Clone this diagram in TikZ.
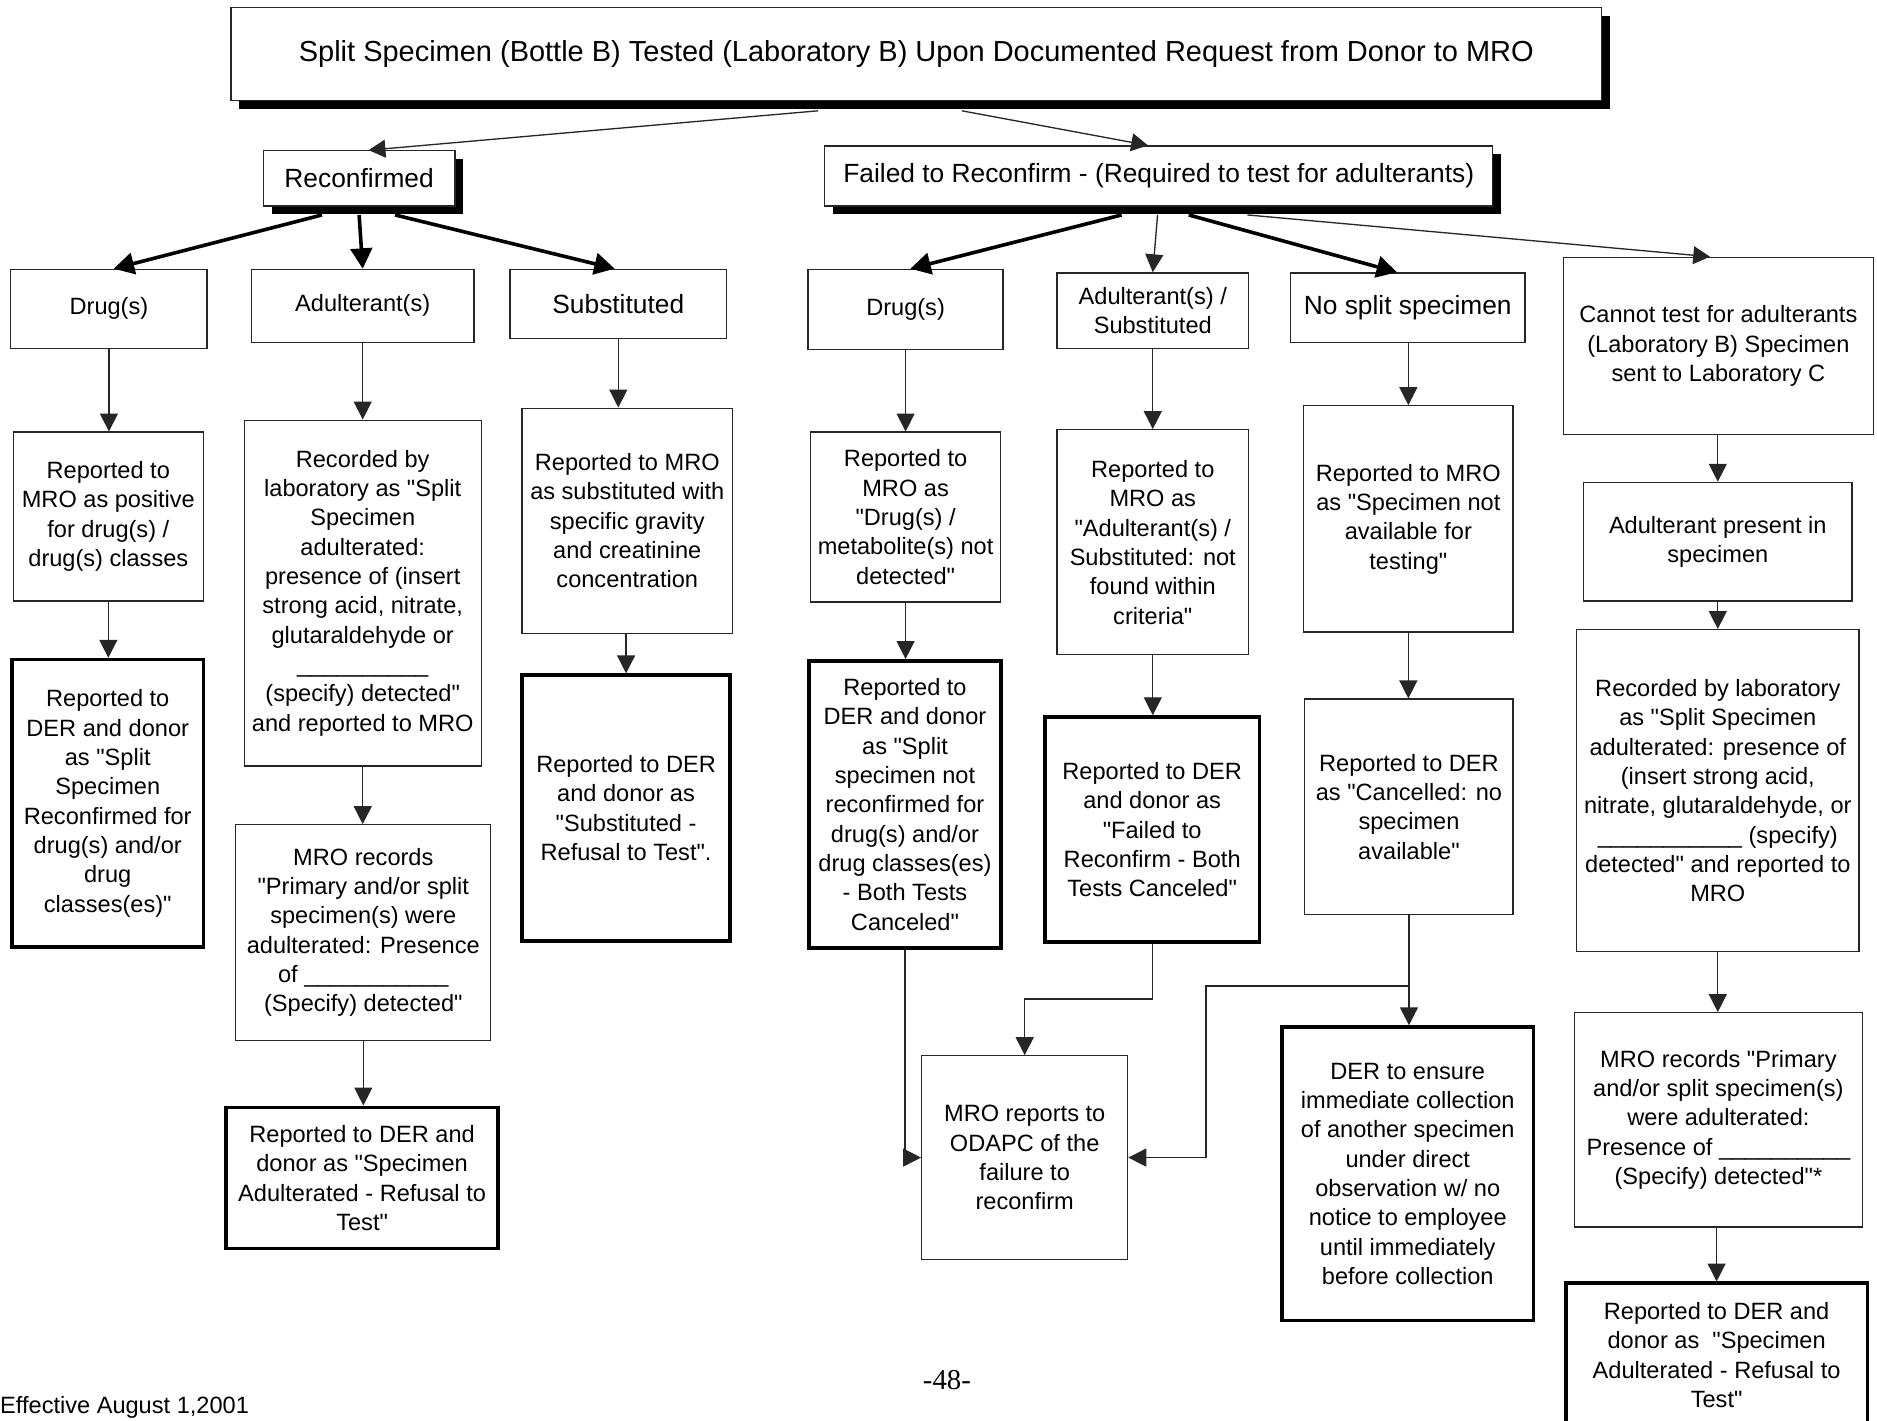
\documentclass[tikz,border=0pt]{standalone}
\usepackage{fontspec}
\setmainfont{Liberation Sans}[Ligatures=TeXOff]
\newfontfamily\pgnumfont{Liberation Serif}
\usetikzlibrary{arrows.meta,shadows,calc}
\newcommand\txtbody{\fontsize{19.7}{24.5}\selectfont}
\newcommand\txthead{\fontsize{22}{26}\selectfont}
\newcommand\txttitle{\fontsize{24.2}{28}\selectfont}
\begin{document}
\begin{tikzpicture}[x=1pt,y=-1pt,
  box/.style={draw=black!85, line width=1.1pt, fill=white, align=center, inner sep=0pt, font=\txtbody},
  tbox/.style={box, draw=black, line width=3pt},
  hbox/.style={box, font=\txthead},
  shbox/.style={box, font=\txthead, drop shadow={shadow xshift=7pt, shadow yshift=-7pt, opacity=1, fill=black, draw=none}},
  conn/.style={draw=black!85, line width=1.1pt, -{Triangle[length=15pt,width=15pt]}},
  topconn/.style={draw=black!85, line width=1.1pt, -{Triangle[length=14pt,width=15pt]}},
  thickconn/.style={draw=black, line width=3pt, -{Triangle[length=17pt,width=18pt]}},
  foot/.style={inner sep=0pt, font=\txtbody}
]
\clip (0,0) rectangle (1568,1187);
\fill[white] (0,0) rectangle (1568,1187);

% header row
\node[shbox, font=\txttitle, minimum width=1145pt, minimum height=78pt] (top) at (765.5,45)
  {\raisebox{-2pt}{Split Specimen (Bottle B) Tested (Laboratory B) Upon Documented Request from Donor to MRO}};
\node[shbox, minimum width=160pt, minimum height=46pt] (rec) at (300,149) {Reconfirmed};
\node[shbox, minimum width=558pt, minimum height=50pt] (fail) at (968,147)
  {Failed to Reconfirm - (Required to test for adulterants)};

% row 1
\node[box, minimum width=164pt, minimum height=66pt] (d1) at (91,258) {Drug(s)};
\node[box, minimum width=186pt, minimum height=61pt] (a1) at (303,255.5) {Adulterant(s)};
\node[hbox, minimum width=181pt, minimum height=58pt] (s1) at (516.5,254) {Substituted};
\node[box, minimum width=163pt, minimum height=67pt] (d2) at (756.5,258.5) {Drug(s)};
\node[box, minimum width=160pt, minimum height=63pt] (as2) at (963,259.5) {Adulterant(s) /\\Substituted};
\node[hbox, minimum width=196pt, minimum height=58pt] (ns) at (1176,257) {No split specimen};
\node[box, minimum width=259pt, minimum height=148pt] (ct) at (1435.5,289)
  {Cannot test for adulterants\\(Laboratory B) Specimen\\sent to Laboratory C};

% row 2
\node[box, minimum width=159pt, minimum height=141pt] (d1b) at (90.5,431.5)
  {Reported to\\MRO as positive\\for drug(s) /\\drug(s) classes};
\node[box, minimum width=198pt, minimum height=289pt] (a1b) at (303,495.5)
  {Recorded by\\laboratory as "Split\\Specimen\\adulterated:\\presence of (insert\\strong acid, nitrate,\\glutaraldehyde or\\\_\_\_\_\_\_\_\_\_\_\\(specify) detected"\\and reported to MRO};
\node[box, minimum width=176pt, minimum height=188pt] (s1b) at (524,435)
  {Reported to MRO\\as substituted with\\specific gravity\\and creatinine\\concentration};
\node[box, minimum width=159pt, minimum height=142pt] (d2b) at (756.5,432)
  {Reported to\\MRO as\\"Drug(s) /\\metabolite(s) not\\detected"};
\node[box, minimum width=160pt, minimum height=188pt] (as2b) at (963,453)
  {Reported to\\MRO as\\"Adulterant(s) /\\Substituted: not\\found within\\criteria"};
\node[box, minimum width=175pt, minimum height=189pt] (nsb) at (1176.5,433.5)
  {Reported to MRO\\as "Specimen not\\available for\\testing"};
\node[box, minimum width=224pt, minimum height=99pt] (ctb) at (1435,452.5)
  {Adulterant present in\\specimen};

% row 3
\node[tbox, minimum width=160pt, minimum height=240pt] (d1c) at (90,671)
  {Reported to\\DER and donor\\as "Split\\Specimen\\Reconfirmed for\\drug(s) and/or\\drug\\classes(es)"};
\node[box, minimum width=213pt, minimum height=180pt] (a1c) at (303.5,779)
  {MRO records\\"Primary and/or split\\specimen(s) were\\adulterated: Presence\\of \_\_\_\_\_\_\_\_\_\_\_\\(Specify) detected"};
\node[tbox, minimum width=174pt, minimum height=222pt] (s1c) at (523,675)
  {Reported to DER\\and donor as\\"Substituted -\\Refusal to Test".};
\node[tbox, minimum width=160pt, minimum height=240pt] (d2c) at (756,672)
  {Reported to\\DER and donor\\as "Split\\specimen not\\reconfirmed for\\drug(s) and/or\\drug classes(es)\\- Both Tests\\Canceled"};
\node[tbox, minimum width=179pt, minimum height=188pt] (as2c) at (962.5,693)
  {Reported to DER\\and donor as\\"Failed to\\Reconfirm - Both\\Tests Canceled"};
\node[box, minimum width=174pt, minimum height=180pt] (nsc) at (1177,674)
  {Reported to DER\\as "Cancelled: no\\specimen\\available"};
\node[box, minimum width=236pt, minimum height=269pt] (ctc) at (1435,660.5)
  {Recorded by laboratory\\as "Split Specimen\\adulterated: presence of\\(insert strong acid,\\nitrate, glutaraldehyde, or\\\_\_\_\_\_\_\_\_\_\_\_ (specify)\\detected" and reported to\\MRO};

% row 4
\node[tbox, minimum width=227pt, minimum height=118pt] (a1d) at (302.5,984)
  {Reported to DER and\\donor as "Specimen\\Adulterated - Refusal to\\Test"};
\node[box, minimum width=172pt, minimum height=170pt] (odapc) at (856,967)
  {MRO reports to\\ODAPC of the\\failure to\\reconfirm};
\node[tbox, minimum width=210pt, minimum height=245pt] (derc) at (1176,980.5)
  {DER to ensure\\immediate collection\\of another specimen\\under direct\\observation w/ no\\notice to employee\\until immediately\\before collection};
\node[box, minimum width=241pt, minimum height=179pt] (ctd) at (1435.5,935.5)
  {MRO records "Primary\\and/or split specimen(s)\\were adulterated:\\Presence of \_\_\_\_\_\_\_\_\_\_\\(Specify) detected"*};
\node[tbox, minimum width=252pt, minimum height=120pt] (cte) at (1434,1132)
  {Reported to DER and\\donor as \ "Specimen\\Adulterated - Refusal to\\Test"};

% footer
\node[foot, anchor=west] (eff) at (0,1176) {Effective August 1,2001};
\node[inner sep=0pt, font=\pgnumfont\fontsize{24}{28}\selectfont] (pg) at (791,1153) {-48-};

% connectors from top
\draw[topconn] ([xshift=-82pt,yshift=-8pt]top.south) -- ([xshift=8pt]rec.north);
\draw[topconn] ([xshift=38pt,yshift=-8pt]top.south) -- ([xshift=-9pt]fail.north);

% from Reconfirmed
\draw[thickconn] ([xshift=-31pt,yshift=-7pt]rec.south) -- ([xshift=4pt]d1.north);
\draw[thickconn] ([xshift=0pt,yshift=-7pt]rec.south) -- (a1.north);
\draw[thickconn] ([xshift=30pt,yshift=-7pt]rec.south) -- ([xshift=-3pt]s1.north);

% from Failed
\draw[thickconn] ([xshift=-31pt,yshift=-7pt]fail.south) -- ([xshift=4pt]d2.north);
\draw[conn] ([xshift=-1pt,yshift=-7pt]fail.south) -- (as2.north);
\draw[thickconn] ([xshift=25pt,yshift=-7pt]fail.south) -- ([xshift=-9pt]ns.north);
\draw[topconn] ([xshift=74pt,yshift=-7pt]fail.south) -- ([xshift=-7pt]ct.north);

% vertical chains
\draw[conn] (d1.south) -- (d1.south |- d1b.north);
\draw[conn] (d1b.south) -- (d1b.south |- d1c.north);
\draw[conn] (a1.south) -- (a1b.north);
\draw[conn] (a1b.south) -- (a1b.south |- a1c.north);
\draw[conn] (a1c.south) -- (a1c.south |- a1d.north);
\draw[conn] (s1.south) -- (s1.south |- s1b.north);
\draw[conn] (s1c.north |- s1b.south) -- (s1c.north);
\draw[conn] (d2.south) -- (d2.south |- d2b.north);
\draw[conn] (d2b.south) -- (d2b.south |- d2c.north);
\draw[conn] (as2.south) -- (as2b.north);
\draw[conn] (as2b.south) -- (as2b.south |- as2c.north);
\draw[conn] (ns.south -| nsb.north) -- (nsb.north);
\draw[conn] (nsb.south) -- (nsb.south |- nsc.north);
\draw[conn] (nsc.south) -- (nsc.south |- derc.north);
\draw[conn] (ct.south -| ctb.north) -- (ctb.north);
\draw[conn] (ctb.south) -- (ctc.north);
\draw[conn] (ctc.south) -- (ctc.south |- ctd.north);
\draw[conn] (ctd.south -| cte.north) -- (cte.north);

% to ODAPC
\draw[conn] (d2c.south) |- (odapc.west);
\draw[conn] (as2c.south) -- ([yshift=-46pt]as2c.south) -| (odapc.north);
\coordinate (nsj) at ([yshift=-59pt]nsc.south);
\coordinate (jog) at ([xshift=65pt]odapc.east);
\draw[conn] (nsj) -| (jog) -- (odapc.east);
\end{tikzpicture}
\end{document}
